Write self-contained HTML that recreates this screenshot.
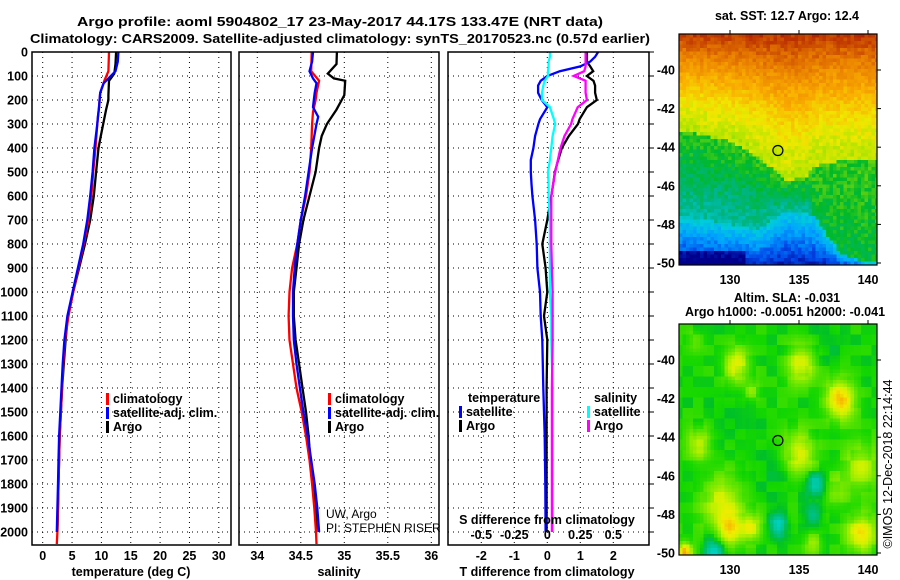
<!DOCTYPE html>
<html><head><meta charset="utf-8"><style>
html,body{margin:0;padding:0;background:#fff;}
svg{display:block;font-family:"Liberation Sans",sans-serif;}
.b{font-weight:bold;font-size:12.5px;}
</style></head><body>
<svg id="fig" width="900" height="580" viewBox="0 0 900 580" xmlns="http://www.w3.org/2000/svg">
<text x="340" y="26" text-anchor="middle" class="b" font-size="14" textLength="526" lengthAdjust="spacingAndGlyphs">Argo profile: aoml 5904802_17 23-May-2017 44.17S 133.47E (NRT data)</text>
<text x="340" y="43" text-anchor="middle" class="b" font-size="14" textLength="620" lengthAdjust="spacingAndGlyphs">Climatology: CARS2009. Satellite-adjusted climatology: synTS_20170523.nc (0.57d earlier)</text>
<g id="g"></g>
</svg>
<script>
// ---- data ----
const depthTicks=[0,100,200,300,400,500,600,700,800,900,1000,1100,1200,1300,1400,1500,1600,1700,1800,1900,2000];
const tTicks=[0,5,10,15,20,25,30];
const sTicks=[34,34.5,35,35.5,36];
const tdTicks=[-2,-1,0,1,2];
const sdTicks=[-0.5,-0.25,0,0.25,0.5];
const sdTickLabels=["-0.5","-0.25","0","0.25","0.5"];
const depthArgo=[0,50,90,110,120,180,200,240,300,350,400,500,600,700,800,900,1000,1100,1200,1300,1400,1500,1600,1700,1800,1900,2000];
const tempArgo=[12.5,12.4,12.2,11.6,11.3,11.2,11.2,10.8,10.3,9.9,9.5,9.1,8.7,8.1,7.2,6.2,5.2,4.3,3.9,3.6,3.3,3.1,2.9,2.8,2.7,2.6,2.5];
const salArgo=[34.915,34.91,34.81,34.88,35.01,35.0,34.97,34.91,34.80,34.74,34.71,34.67,34.60,34.53,34.48,34.45,34.42,34.42,34.44,34.48,34.52,34.56,34.59,34.61,34.64,34.67,34.68];
const depthClim=[0,80,120,170,200,250,300,400,500,600,700,800,900,1000,1100,1200,1300,1400,1500,1600,1700,1800,1900,2000,2050];
const tempClim=[11.3,11.2,10.5,9.8,9.7,9.5,9.3,9.0,8.6,8.3,7.8,7.0,6.1,5.2,4.4,3.8,3.5,3.3,3.1,2.9,2.8,2.7,2.6,2.5,2.4];
const salClim=[34.625,34.62,34.71,34.68,34.67,34.64,34.63,34.62,34.60,34.56,34.50,34.46,34.40,34.37,34.36,34.37,34.41,34.45,34.51,34.56,34.60,34.63,34.655,34.675,34.68];
const depthSat=[0,40,80,110,130,170,200,230,270,300,400,500,600,700,800,900,1000,1100,1200,1300,1400,1500,1600,1700,1800,1900,2000];
const tempSat=[12.9,12.8,12.4,11.2,10.4,9.8,9.7,9.6,9.4,9.3,8.8,8.5,8.1,7.6,6.9,6.0,5.1,4.2,3.7,3.4,3.2,3.0,2.8,2.7,2.6,2.5,2.4];
const salSat=[34.64,34.63,34.60,34.64,34.68,34.66,34.65,34.64,34.70,34.68,34.63,34.59,34.55,34.50,34.46,34.43,34.41,34.41,34.42,34.45,34.49,34.53,34.58,34.62,34.66,34.69,34.71];
const depthDiff=[0,20,40,60,80,100,120,140,170,200,230,280,300,350,400,450,500,550,600,700,800,900,1000,1100,1200,1400,1600,1800,2000];
const tdSat=[1.54,1.45,1.3,1.0,0.38,0.0,-0.2,-0.28,-0.28,-0.17,0.0,-0.22,-0.27,-0.37,-0.42,-0.5,-0.5,-0.48,-0.45,-0.37,-0.32,-0.3,-0.22,-0.2,-0.15,-0.12,-0.08,-0.06,-0.05];
const tdArgo=[1.2,1.2,1.2,1.3,1.39,1.2,1.4,1.45,1.45,1.5,1.2,0.98,0.93,0.65,0.44,0.33,0.23,0.18,0.12,0.0,-0.15,-0.05,0.0,-0.1,0.0,-0.02,-0.02,-0.02,-0.02];
const sdSat=[0.02,0.02,0.01,0.01,0.005,0.005,-0.02,-0.03,-0.04,-0.04,0.02,0.05,0.06,0.04,0.03,0.02,0.005,0.01,0.01,0.02,0.02,0.02,0.02,0.03,0.03,0.04,0.04,0.04,0.04];
const sdArgo=[0.29,0.29,0.29,0.29,0.28,0.2,0.29,0.29,0.29,0.3,0.23,0.19,0.18,0.13,0.10,0.08,0.06,0.045,0.03,0.03,0.03,0.035,0.04,0.04,0.04,0.035,0.035,0.035,0.035];
const latTicks=[-40,-42,-44,-46,-48,-50];
const lonTicks=[130,135,140];
const argoLon=133.47, argoLat=-44.17;
// ---- helpers ----
const NS='http://www.w3.org/2000/svg';
const G=document.getElementById('g');
function mk(tag,attrs,parent){const e=document.createElementNS(NS,tag);for(const k in attrs)e.setAttribute(k,attrs[k]);(parent||G).appendChild(e);return e;}
function txt(x,y,s,attrs,parent){const e=mk('text',Object.assign({x:x,y:y},attrs||{}),parent);e.textContent=s;return e;}
const yD=d=>52+0.24*d;
const PY0=52,PY1=545;
function panel(name){
  const g=mk('g',{});
  
  
  return g;
}
function grid(g,x0,x1,xs){
  depthTicks.forEach(d=>{mk('line',{x1:x0,x2:x1,y1:yD(d),y2:yD(d),stroke:'#000','stroke-width':1,'stroke-dasharray':'1,4'},g);});
  xs.forEach(x=>{mk('line',{x1:x,x2:x,y1:PY0,y2:PY1,stroke:'#000','stroke-width':1,'stroke-dasharray':'1,4'},g);});
}
function frame(g,x0,x1){mk('rect',{x:x0,y:PY0,width:x1-x0,height:PY1-PY0,fill:'none',stroke:'#000','stroke-width':1.5},g);}
function line(g,xs,ds,fx,color,name,w){
  const pts=xs.map((v,i)=>fx(v).toFixed(1)+','+yD(ds[i]).toFixed(1)).join(' ');
  const p=mk('polyline',{points:pts,fill:'none',stroke:color,'stroke-width':w||2.3,'stroke-linejoin':'miter'},g);
  
  
}
function legendItem(g,x,y,color,label,name){
  mk('rect',{x:x,y:y-10,width:3,height:12,fill:color},g);
  const t=txt(x+7,y,label,{class:'b'},g);
  
  
}
// ---- panel 1 temperature ----
const xT=t=>42.7+5.87*t;
const p1=panel('temperature-panel');
grid(p1,32,231,tTicks.map(xT));
line(p1,tempArgo,depthArgo,xT,'#000','argo-temperature-line');
line(p1,tempClim,depthClim,xT,'#f00','climatology-temperature-line');
line(p1,tempSat,depthSat,xT,'#00f','satellite-temperature-line');
frame(p1,32,231);
depthTicks.forEach(d=>{const t=txt(28,yD(d)+4.5,String(d),{class:'b','text-anchor':'end'},p1);});
tTicks.forEach(v=>{const t=txt(xT(v),560,String(v),{class:'b','text-anchor':'middle'},p1);});
let at=txt(131,576,'temperature (deg C)',{class:'b','text-anchor':'middle'},p1);

legendItem(p1,106,403,'#f00','climatology','legend-climatology');
legendItem(p1,106,417,'#00f','satellite-adj. clim.','legend-satellite-adj');
legendItem(p1,106,431,'#000','Argo','legend-argo');
// ---- panel 2 salinity ----
const xS=s=>257.3+87*(s-34);
const p2=panel('salinity-panel');
grid(p2,239,439,sTicks.map(xS));
line(p2,salArgo,depthArgo,xS,'#000','argo-salinity-line');
line(p2,salClim,depthClim,xS,'#f00','climatology-salinity-line');
line(p2,salSat,depthSat,xS,'#00f','satellite-salinity-line');
frame(p2,239,439);
sTicks.forEach(v=>{const t=txt(xS(v),560,String(v),{class:'b','text-anchor':'middle'},p2);});
at=txt(339,576,'salinity',{class:'b','text-anchor':'middle'},p2);

legendItem(p2,328,403,'#f00','climatology','legend-climatology-2');
legendItem(p2,328,417,'#00f','satellite-adj. clim.','legend-satellite-adj-2');
legendItem(p2,328,431,'#000','Argo','legend-argo-2');
at=txt(326,518,'UW, Argo',{'font-size':12},p2);
at=txt(326,532,'PI: STEPHEN RISER',{'font-size':12},p2);
// ---- panel 3 differences ----
const xTD=v=>547.3+33*v;
const xSD=v=>547.3+132*v;
const p3=panel('difference-panel');
grid(p3,448,649,tdTicks.map(xTD));
line(p3,tdArgo,depthDiff,xTD,'#000','argo-temperature-diff-line');
line(p3,tdSat,depthDiff,xTD,'#00f','satellite-temperature-diff-line');
line(p3,sdSat,depthDiff,xSD,'#0ff','satellite-salinity-diff-line');
line(p3,sdArgo,depthDiff,xSD,'#f0f','argo-salinity-diff-line');
frame(p3,448,649);
depthTicks.forEach(d=>{mk('line',{x1:649,x2:654,y1:yD(d),y2:yD(d),stroke:'#000'},p3);});
tdTicks.forEach(v=>{const t=txt(xTD(v),560,String(v),{class:'b','text-anchor':'middle'},p3);});
sdTicks.forEach((v,i)=>{const t=txt(xSD(v),539,sdTickLabels[i],{class:'b','text-anchor':'middle'},p3);});
at=txt(547,524,'S difference from climatology',{class:'b','text-anchor':'middle'},p3);
at=txt(547,576,'T difference from climatology',{class:'b','text-anchor':'middle'},p3);
at=txt(468,402,'temperature',{class:'b'},p3);
legendItem(p3,459,416,'#00f','satellite','legend-t-satellite');
legendItem(p3,459,430,'#000','Argo','legend-t-argo');
at=txt(594,402,'salinity',{class:'b'},p3);
legendItem(p3,587,416,'#0ff','satellite','legend-s-satellite');
legendItem(p3,587,430,'#f0f','Argo','legend-s-argo');
// ---- maps ----
function hash(i,j,s){let h=(i*374761393+j*668265263+s*1442695041)|0;h=(h^(h>>>13))*1274126177;h=h^(h>>>16);return ((h>>>0)%1000)/1000;}
function interp(xs,ys,x){if(x<=xs[0])return ys[0];for(let i=1;i<xs.length;i++){if(x<=xs[i]){const f=(x-xs[i-1])/(xs[i]-xs[i-1]);return ys[i-1]+f*(ys[i]-ys[i-1]);}}return ys[ys.length-1];}
function cmap(stops,v){for(let i=1;i<stops.length;i++){if(v<=stops[i][0]||i==stops.length-1){const a=stops[i-1],b=stops[i];let f=(v-a[0])/(b[0]-a[0]);f=Math.max(0,Math.min(1,f));return 'rgb('+[1,2,3].map(k=>Math.round(a[k]+f*(b[k]-a[k]))).join(',')+')';}}}
const sstStops=[[0,0,0,140],[0.1,0,70,230],[0.2,0,160,255],[0.3,0,205,220],[0.38,0,180,140],[0.46,0,185,40],[0.56,170,228,0],[0.64,240,232,0],[0.74,250,175,0],[0.84,232,125,0],[1,170,20,0]];
const slaStops=[[-0.35,0,215,215],[-0.15,0,190,120],[-0.05,0,192,40],[0,20,215,0],[0.12,120,232,0],[0.22,205,242,0],[0.3,240,236,0],[0.42,250,165,0]];
const gLon=[127,130,132,134,135.5,136,138,140], gLat=[43.2,43.7,44.5,45.7,45.6,45.0,44.7,44.7];
const bLon=[127,130,132,134,136,137,138,140], bLat=[47.6,48.0,48.3,47.3,47.5,48.5,49.5,50.0];
const blobs=[[130.5,-40.3,0.25,0.9],[135.2,-40.2,0.26,1.0],[138,-42,0.36,1.0],[127.8,-44.3,0.22,0.8],[135,-44.8,0.26,1.1],[139.5,-45.5,0.2,1.2],[129.5,-47.4,0.22,1.5],[130,-48.7,0.3,0.8],[131.5,-48.7,0.26,0.7],[139.5,-49,0.3,1.0],[136,-49.6,0.15,0.7],[126.7,-50,0.4,0.5],[137.6,-46.8,0.12,1.0],[131.6,-41.6,0.12,0.5],[127.5,-39,0.08,0.6],[136.2,-46.5,-0.32,0.6],[133.5,-48.6,-0.32,0.6],[128.8,-50,-0.32,0.7],[136,-48,-0.15,0.6],[133,-45.5,-0.05,1.5],[130,-43,-0.04,1.5],[137,-39,-0.05,1.2]];
function drawMap(name,x0,y0,x1,y1,fn){
  const g=mk('g',{});
  
  
  const yRef=(y0===34?70:360);
  const xL=l=>730+13.8*(l-130);
  const yL=l=>yRef+19.3*(-40-l);
  const lonL=l=>130+(l-730)/13.8, latL=y=>-40-(y-yRef)/19.3;
  const cs=3.5;
  for(let y=y0;y<y1;y+=cs){for(let x=x0;x<x1;x+=cs){
    const c=fn(lonL(x+cs/2),latL(y+cs/2),Math.round(x/cs),Math.round(y/cs));
    mk('rect',{x:x.toFixed(1),y:y.toFixed(1),width:Math.min(cs+0.3,x1-x),height:Math.min(cs+0.3,y1-y),fill:c},g);}}
  mk('rect',{x:x0,y:y0,width:x1-x0,height:y1-y0,fill:'none',stroke:'#000','stroke-width':1.2},g);
  latTicks.forEach(l=>{const y=yL(l);mk('line',{x1:x1,x2:x1+4,y1:y,y2:y,stroke:'#000'},g);
    const t=txt(x0-4,y+4.5,String(l),{class:'b','text-anchor':'end'},g);});
  lonTicks.forEach(l=>{const x=xL(l);mk('line',{x1:x,x2:x,y1:y0-4,y2:y0,stroke:'#000'},g);
    const t=txt(x,y1+19,String(l),{class:'b','text-anchor':'middle','font-size':13.5},g);});
  const c=mk('circle',{cx:xL(argoLon),cy:yL(argoLat),r:5,fill:'none',stroke:'#000','stroke-width':1.2},g);
  
  return g;
}
drawMap('sst-map',679,34,877,265,(lon,lat,i,j)=>{
  const t=-lat,g=interp(gLon,gLat,lon),b=interp(bLon,bLat,lon);let v;
  if(t<g) v=0.58+0.38*Math.min(1,Math.pow((g-t)/(g-38),1.4));
  else if(t<b) v=0.49-(lon>136?0.04:0.13)*(t-g)/(b-g);
  else v=0.3-0.27*Math.min(1,(t-b)/(50.3-b));
  if(lon<131&&t>49.3) v-=0.1;
  v+= (hash(i,j,1)-0.5)*0.07;
  return cmap(sstStops,v);
});
let mt=txt(787,20,'sat. SST: 12.7 Argo: 12.4',{class:'b','text-anchor':'middle'});

drawMap('sla-map',679,324,877,555,(lon,lat,i,j)=>{
  let v=0;blobs.forEach(b=>{const d2=((lon-b[0])**2+(lat-b[1])**2)/(b[3]*b[3]);v+=b[2]*Math.exp(-d2);});
  v+=(hash(Math.floor(i/3),Math.floor(j/3),2)-0.5)*0.08;
  return cmap(slaStops,v);
});
mt=txt(787,302,'Altim. SLA: -0.031',{class:'b','text-anchor':'middle'});

mt=txt(785,316,'Argo h1000: -0.0051 h2000: -0.041',{class:'b','text-anchor':'middle'});

mt=txt(0,0,'©IMOS 12-Dec-2018 22:14:44',{'font-size':12.5,'text-anchor':'middle',transform:'translate(892,464) rotate(-90)'});

</script>
</body></html>
